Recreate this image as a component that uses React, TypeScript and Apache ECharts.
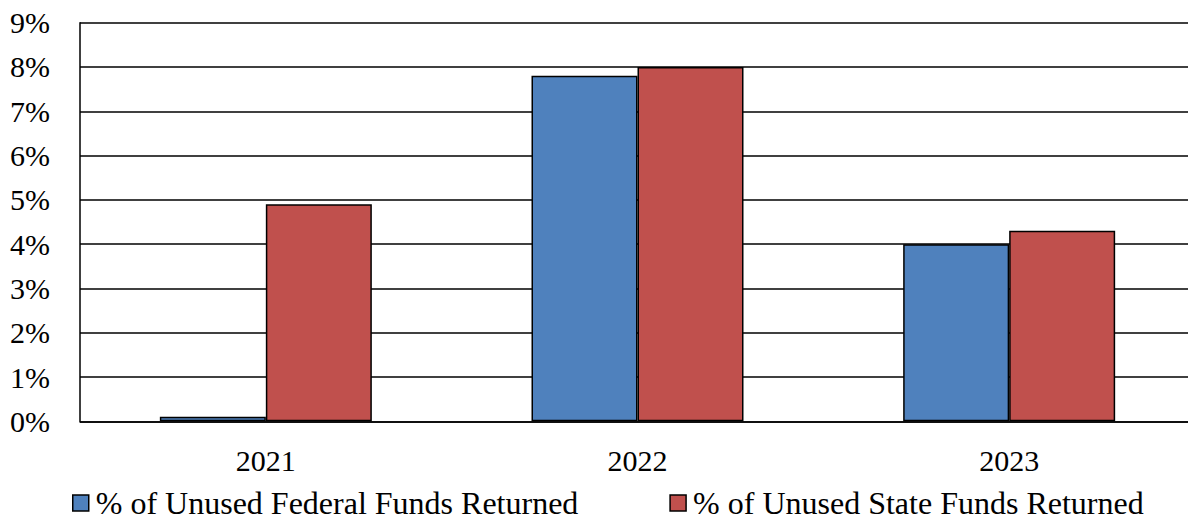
import React, { useEffect, useRef } from "react";
import * as echarts from "echarts";

const categories = ["2021", "2022", "2023"];
const federalValues = [0.1, 7.8, 4.0];
const stateValues = [4.9, 8.0, 4.3];
const federalName = "% of Unused Federal Funds Returned";
const stateName = "% of Unused State Funds Returned";

export default function App() {
  const ref = useRef<HTMLDivElement>(null);
  useEffect(() => {
    document.body.style.margin = "0";
    const chart = echarts.init(ref.current!, null, { renderer: "svg" });
    const font = "Times New Roman";
    chart.setOption({
      animation: false,
      legend: {
        top: 487,
        left: 72,
        padding: 0,
        icon: "rect",
        itemWidth: 16,
        itemHeight: 16,
        itemGap: 91,
        textStyle: { fontFamily: font, fontSize: 32, color: "#000", padding: [0, 0, 0, 2] },
        itemStyle: { borderColor: "#000", borderWidth: 1.5 },
        data: [federalName, stateName],
      },
      grid: { left: 80, top: 22.7, width: 1115, bottom: 98.7, outerBoundsMode: "none" },
      xAxis: {
        type: "category",
        data: categories,
        axisLine: { show: true, lineStyle: { color: "#000", width: 1.5 } },
        axisTick: { show: false },
        axisLabel: { fontFamily: font, fontSize: 30, color: "#000", margin: 24 },
      },
      yAxis: {
        type: "value",
        min: 0,
        max: 9,
        interval: 1,
        axisLine: { show: true, lineStyle: { color: "#000", width: 1.5 } },
        axisTick: { show: false },
        splitLine: { show: true, lineStyle: { color: "#000", width: 1.5 } },
        axisLabel: { fontFamily: font, fontSize: 30, color: "#000", margin: 30, formatter: "{value}%" },
      },
      series: [
        {
          name: federalName,
          type: "bar",
          data: federalValues,
          barWidth: 106,
          barGap: "0%",
          itemStyle: { color: "#4F81BD", borderColor: "#000", borderWidth: 1.5 },
        },
        {
          name: stateName,
          type: "bar",
          data: stateValues,
          barWidth: 106,
          barGap: "0%",
          itemStyle: { color: "#C0504D", borderColor: "#000", borderWidth: 1.5 },
        },
      ],
    });
    return () => chart.dispose();
  }, []);
  return <div ref={ref} style={{ width: 1188, height: 520 }} />;
}
